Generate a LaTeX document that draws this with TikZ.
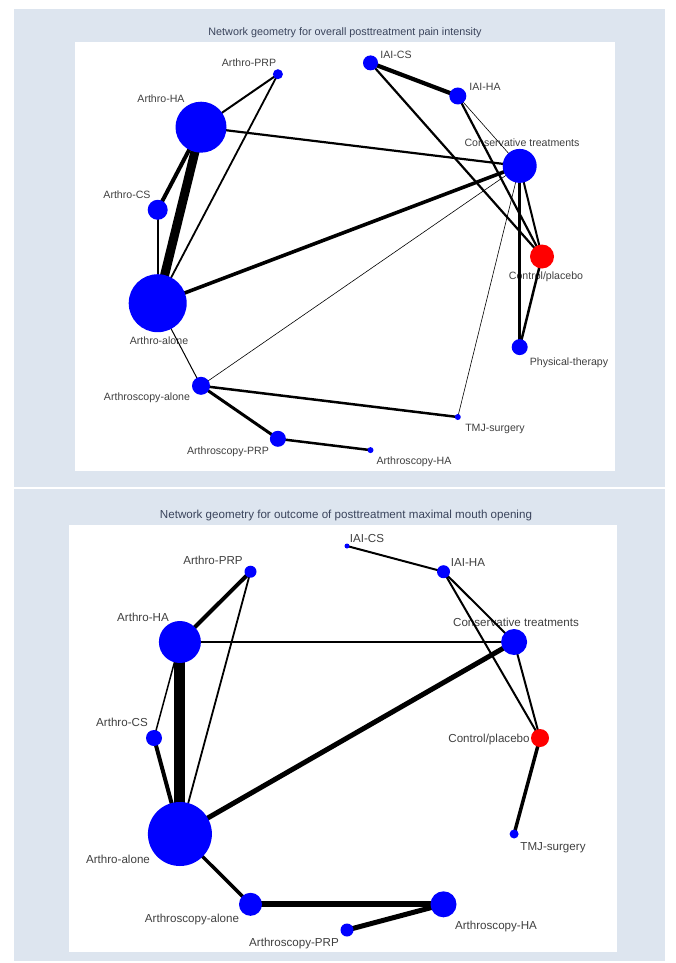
\documentclass[tikz,border=0pt]{standalone}
\usepackage{fontspec}
\setmainfont{Liberation Sans}

\definecolor{panelbg}{RGB}{221,229,239}
\definecolor{labgray}{RGB}{64,64,64}
\definecolor{titlegray}{RGB}{58,68,92}

\pgfdeclarelayer{back}
\pgfdeclarelayer{edges}
\pgfsetlayers{back,edges,main}

\tikzset{
  trt/.style={circle,fill=blue,inner sep=0pt,minimum size=#1},
  refgrp/.style={circle,fill=red,inner sep=0pt,minimum size=#1},
  lab/.style={text=labgray,inner sep=0pt,font=\fontsize{10.6}{12}\selectfont},
  labb/.style={text=labgray,inner sep=0pt,font=\fontsize{11.6}{13}\selectfont},
  ttl/.style={text=titlegray,inner sep=0pt,font=\fontsize{10.8}{12}\selectfont},
  ttlb/.style={text=titlegray,inner sep=0pt,font=\fontsize{11.6}{13}\selectfont},
}

\begin{document}
\begin{tikzpicture}[x=1pt,y=-1pt]
  \useasboundingbox (0,0) rectangle (676,963);

  % panels and labels
  \begin{pgfonlayer}{back}
    \fill[panelbg] (14,9.5) rectangle (665,487);
    \fill[white] (75,42) rectangle (615,471);
    \fill[panelbg] (14,489) rectangle (665,961);
    \fill[white] (69,525) rectangle (617,952);

    \node[ttl] (t1) at (345,33) {Network geometry for overall posttreatment pain intensity};
    \node[lab] (lprpA) at (249,63) {Arthro-PRP};
    \node[lab] (liaicsA) at (396,55) {IAI-CS};
    \node[lab] (liaihaA) at (485,87) {IAI-HA};
    \node[lab] (lhaA) at (161,99) {Arthro-HA};
    \node[lab] (lconsA) at (522,143) {Conservative treatments};
    \node[lab] (lcsA) at (127,195) {Arthro-CS};
    \node[lab] (lctlA) at (546,277) {Control/placebo};
    \node[lab] (lalA) at (159,341) {Arthro-alone};
    \node[lab] (lphysA) at (569,363) {Physical-therapy};
    \node[lab] (lscalA) at (147,398) {Arthroscopy-alone};
    \node[lab] (ltmjA) at (495,429) {TMJ-surgery};
    \node[lab] (lscprpA) at (228,452) {Arthroscopy-PRP};
    \node[lab] (lschaA) at (414,462) {Arthroscopy-HA};

    \node[ttlb] (t2) at (346,515) {Network geometry for outcome of posttreatment maximal mouth opening};
    \node[labb] (liaicsB) at (367,539) {IAI-CS};
    \node[labb] (lprpB) at (213,560) {Arthro-PRP};
    \node[labb] (liaihaB) at (468,563) {IAI-HA};
    \node[labb] (lhaB) at (143,617) {Arthro-HA};
    \node[labb] (lconsB) at (516,622) {Conservative treatments};
    \node[labb] (lcsB) at (122,722) {Arthro-CS};
    \node[labb] (lctlB) at (489,739) {Control/placebo};
    \node[labb] (lalB) at (118,859) {Arthro-alone};
    \node[labb] (ltmjB) at (553,848) {TMJ-surgery};
    \node[labb] (lscalB) at (192,919) {Arthroscopy-alone};
    \node[labb] (lschaB) at (496,926) {Arthroscopy-HA};
    \node[labb] (lscprpB) at (294,943) {Arthroscopy-PRP};
  \end{pgfonlayer}

  % pain intensity network
  \node[refgrp=24pt] (ctlA) at (542,256.5) {};
  \node[trt=34pt] (consA) at (519.7,165.9) {};
  \node[trt=17pt] (iaihaA) at (457.8,96) {};
  \node[trt=15pt] (iaicsA) at (370.5,62.9) {};
  \node[trt=10pt] (prpA) at (277.9,74.2) {};
  \node[trt=51pt] (haA) at (201,127.2) {};
  \node[trt=20pt] (csA) at (157.7,209.8) {};
  \node[trt=58pt] (alA) at (157.7,303.2) {};
  \node[trt=18pt] (scalA) at (201,385.8) {};
  \node[trt=16pt] (scprpA) at (277.9,438.8) {};
  \node[trt=6pt] (schaA) at (370.5,450.1) {};
  \node[trt=6pt] (tmjA) at (457.8,417) {};
  \node[trt=16pt] (physA) at (519.7,347.1) {};

  % mouth opening network
  \node[trt=5pt] (iaicsB) at (347,546) {};
  \node[trt=13pt] (iaihaB) at (443.5,571.7) {};
  \node[trt=26pt] (consB) at (514.1,642) {};
  \node[refgrp=18pt] (ctlB) at (540,738) {};
  \node[trt=9pt] (tmjB) at (514.1,834) {};
  \node[trt=26pt] (schaB) at (443.5,904.3) {};
  \node[trt=13pt] (scprpB) at (347,930) {};
  \node[trt=23pt] (scalB) at (250.5,904.3) {};
  \node[trt=64pt] (alB) at (179.9,834) {};
  \node[trt=16pt] (csB) at (154,738) {};
  \node[trt=42pt] (haB) at (179.9,642) {};
  \node[trt=12pt] (prpB) at (250.5,571.7) {};

  \begin{pgfonlayer}{edges}
    \draw[line width=4.2pt] (iaicsA.center) -- (iaihaA.center);
    \draw[line width=2.2pt] (iaicsA.center) -- (ctlA.center);
    \draw[line width=2.2pt] (iaihaA.center) -- (ctlA.center);
    \draw[line width=0.6pt] (iaihaA.center) -- (consA.center);
    \draw[line width=2pt] (consA.center) -- (ctlA.center);
    \draw[line width=3pt] (consA.center) -- (physA.center);
    \draw[line width=2.5pt] (ctlA.center) -- (physA.center);
    \draw[line width=0.6pt] (consA.center) -- (tmjA.center);
    \draw[line width=0.6pt] (consA.center) -- (scalA.center);
    \draw[line width=2.2pt] (haA.center) -- (consA.center);
    \draw[line width=3.6pt] (alA.center) -- (consA.center);
    \draw[line width=2pt] (haA.center) -- (prpA.center);
    \draw[line width=1.8pt] (prpA.center) -- (alA.center);
    \draw[line width=9pt] (haA.center) -- (alA.center);
    \draw[line width=4pt] (haA.center) -- (csA.center);
    \draw[line width=2pt] (csA.center) -- (alA.center);
    \draw[line width=1pt] (alA.center) -- (scalA.center);
    \draw[line width=2.5pt] (scalA.center) -- (tmjA.center);
    \draw[line width=3pt] (scalA.center) -- (scprpA.center);
    \draw[line width=2.5pt] (scprpA.center) -- (schaA.center);

    \draw[line width=2pt] (iaicsB.center) -- (iaihaB.center);
    \draw[line width=2pt] (iaihaB.center) -- (consB.center);
    \draw[line width=2pt] (iaihaB.center) -- (ctlB.center);
    \draw[line width=2pt] (consB.center) -- (ctlB.center);
    \draw[line width=3.5pt] (ctlB.center) -- (tmjB.center);
    \draw[line width=4pt] (haB.center) -- (prpB.center);
    \draw[line width=1.8pt] (prpB.center) -- (alB.center);
    \draw[line width=2pt] (haB.center) -- (consB.center);
    \draw[line width=11pt] (haB.center) -- (alB.center);
    \draw[line width=1.5pt] (haB.center) -- (csB.center);
    \draw[line width=4pt] (csB.center) -- (alB.center);
    \draw[line width=5pt] (alB.center) -- (consB.center);
    \draw[line width=3.5pt] (alB.center) -- (scalB.center);
    \draw[line width=6pt] (scalB.center) -- (schaB.center);
    \draw[line width=5pt] (schaB.center) -- (scprpB.center);
  \end{pgfonlayer}
\end{tikzpicture}
\end{document}
